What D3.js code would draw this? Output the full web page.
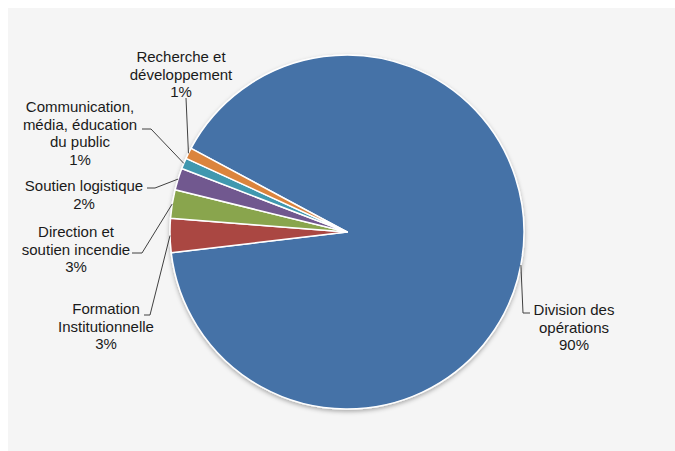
<!DOCTYPE html>
<html>
<head>
<meta charset="utf-8">
<script src="https://cdn.jsdelivr.net/npm/d3@7"></script>
<style>
  body { margin: 0; background: #fff; }
  text { font-family: "Liberation Sans", Arial, sans-serif; font-size: 15px; fill: #1a1a1a; }
</style>
</head>
<body>
<svg id="chart" width="675" height="451"></svg>
<script>
// slices in drawing order (clockwise)
var names = [
  ["Division des", "opérations"],
  ["Formation", "Institutionnelle"],
  ["Direction et", "soutien incendie"],
  ["Soutien logistique"],
  ["Communication,", "média, éducation", "du public"],
  ["Recherche et", "développement"]
];
var values = [90.3, 3.1, 2.6, 2.0, 1.0, 1.0];
var colors = ["#4572a7", "#aa4643", "#89a54e", "#71588f", "#4198af", "#db843d"];

// label placement (manual, like the original)
var labelX = [574, 106, 76, 84, 80, 181];
var labelY = [310, 309, 232, 186, 107, 57];
var elbows = [
  [[523, 313], [530, 313]],
  [[150, 315], [144, 315]],
  [[142, 253], [132, 253]],
  [[155, 188], [147, 188]],
  [[151, 129], [142, 129]],
  [[186, 98]]
];

var cx = 347, cy = 232, radius = 177;
var lineH = 17.5;

var svg = d3.select("#chart");

svg.append("rect")
  .attr("x", 8).attr("y", 8)
  .attr("width", 667).attr("height", 443)
  .attr("fill", "#f5f5f5");

var defs = svg.append("defs");
var f = defs.append("filter").attr("id", "shadow")
  .attr("x", "-10%").attr("y", "-10%").attr("width", "120%").attr("height", "120%");
f.append("feDropShadow")
  .attr("dx", 0).attr("dy", 2).attr("stdDeviation", 2)
  .attr("flood-color", "#000").attr("flood-opacity", 0.3);

var total = d3.sum(values);

var pie = d3.pie()
  .sort(null)
  .startAngle(-61.8 * Math.PI / 180)
  .endAngle((360 - 61.8) * Math.PI / 180);

var arc = d3.arc().innerRadius(0).outerRadius(radius);
var edge = d3.arc().innerRadius(radius).outerRadius(radius);

var arcs = pie(values);

var g = svg.append("g")
  .attr("transform", "translate(" + cx + "," + cy + ")");

g.append("g")
  .attr("filter", "url(#shadow)")
  .selectAll("path")
  .data(arcs)
  .enter().append("path")
  .attr("d", arc)
  .attr("fill", function(d, i) { return colors[i]; })
  .attr("stroke", "#fff")
  .attr("stroke-width", 1.5)
  .attr("stroke-linejoin", "round");

// leader lines
var line = d3.line();
svg.append("g")
  .selectAll("path")
  .data(arcs)
  .enter().append("path")
  .attr("d", function(d, i) {
    var c = edge.centroid(d);
    var pts = [[c[0] + cx, c[1] + cy]].concat(elbows[i]);
    return line(pts);
  })
  .attr("fill", "none")
  .attr("stroke", "#404040")
  .attr("stroke-width", 1);

// labels
var labels = svg.append("g").selectAll("text")
  .data(arcs)
  .enter().append("text")
  .attr("text-anchor", "middle");

labels.each(function(d, i) {
  var t = d3.select(this);
  var lines = names[i].concat([Math.round(d.data / total * 100) + "%"]);
  lines.forEach(function(s, k) {
    t.append("tspan")
      .attr("x", labelX[i])
      .attr("y", labelY[i] + k * lineH)
      .attr("dy", "0.35em")
      .text(s);
  });
});
</script>
</body>
</html>
